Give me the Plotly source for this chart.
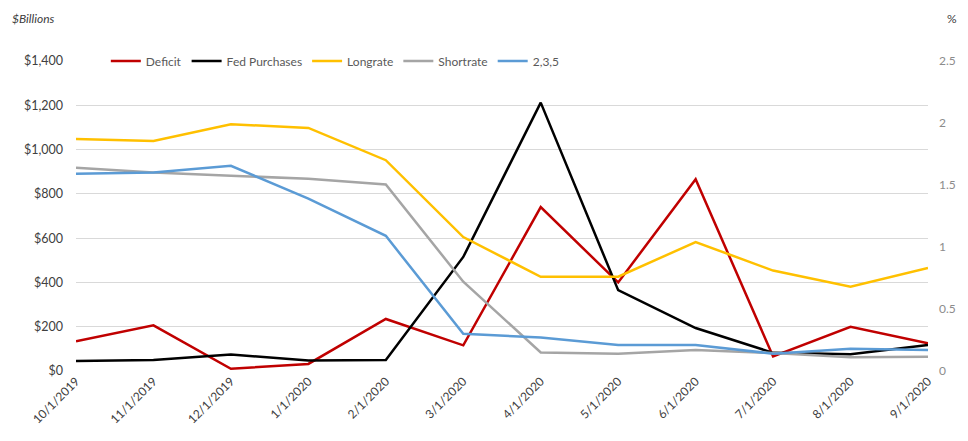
import plotly.graph_objects as go

dates = ["10/1/2019", "11/1/2019", "12/1/2019", "1/1/2020", "2/1/2020", "3/1/2020",
         "4/1/2020", "5/1/2020", "6/1/2020", "7/1/2020", "8/1/2020", "9/1/2020"]
deficit = [134, 206, 10, 32, 235, 116, 740, 400, 866, 66, 200, 125]
fed_purchases = [45, 50, 75, 47, 50, 515, 1212, 365, 194, 82, 76, 118]
longrate = [1.87, 1.855, 1.99, 1.96, 1.70, 1.08, 0.76, 0.76, 1.04, 0.81, 0.68, 0.83]
shortrate = [1.64, 1.60, 1.575, 1.55, 1.505, 0.72, 0.15, 0.14, 0.17, 0.145, 0.11, 0.115]
r235 = [1.59, 1.60, 1.655, 1.39, 1.09, 0.30, 0.27, 0.21, 0.21, 0.14, 0.18, 0.17]

left_ticks = [0, 200, 400, 600, 800, 1000, 1200, 1400]
left_labels = ["$0", "$200", "$400", "$600", "$800", "$1,000", "$1,200", "$1,400"]
right_ticks = [0, 0.5, 1, 1.5, 2, 2.5]
right_labels = ["0", "0.5", "1", "1.5", "2", "2.5"]

FONT = "Lato, 'Open Sans', sans-serif"
fig = go.Figure()
lw = 2.5
fig.add_trace(go.Scatter(x=dates, y=deficit, name="Deficit", mode="lines",
                         line=dict(color="#C00000", width=lw), yaxis="y"))
fig.add_trace(go.Scatter(x=dates, y=fed_purchases, name="Fed Purchases", mode="lines",
                         line=dict(color="#000000", width=lw), yaxis="y"))
fig.add_trace(go.Scatter(x=dates, y=longrate, name="Longrate", mode="lines",
                         line=dict(color="#FFC000", width=lw), yaxis="y2"))
fig.add_trace(go.Scatter(x=dates, y=shortrate, name="Shortrate", mode="lines",
                         line=dict(color="#A5A5A5", width=lw), yaxis="y2"))
fig.add_trace(go.Scatter(x=dates, y=r235, name="2,3,5", mode="lines",
                         line=dict(color="#5B9BD5", width=lw), yaxis="y2"))

fig.update_layout(
    width=968, height=441,
    margin=dict(l=76, r=35, t=61, b=70),
    paper_bgcolor="white", plot_bgcolor="white",
    font=dict(family=FONT, size=12, color="#404040"),
    xaxis=dict(type="category", range=[0, 11], tickangle=-45, showgrid=False,
               showline=False, ticks="", tickfont=dict(size=12, color="#404040")),
    yaxis=dict(range=[0, 1400], tickvals=left_ticks, ticktext=left_labels,
               showgrid=True, gridcolor="#D9D9D9", gridwidth=1, zeroline=False,
               ticks="", tickfont=dict(size=12.5, color="#404040"), ticklabelstandoff=12),
    yaxis2=dict(range=[0, 2.5], tickvals=right_ticks, ticktext=right_labels,
                overlaying="y", side="right", showgrid=False, zeroline=False,
                ticks="", tickfont=dict(size=12, color="#8C8C8C"), ticklabelstandoff=10),
    legend=dict(orientation="h", x=0.035, y=1.0, xref="paper", yref="paper",
                xanchor="left", yanchor="middle", bgcolor="rgba(0,0,0,0)",
                font=dict(size=12, color="#595959"), itemwidth=30,
                tracegroupgap=0),
    showlegend=True,
)
fig.add_annotation(text="<i>$Billions</i>", x=10, y=18, showarrow=False,
                   xanchor="left", yanchor="middle",
                   font=dict(size=12, color="#404040"))
fig.add_annotation(text="%", x=950, y=18, showarrow=False, xanchor="left", yanchor="middle",
                   font=dict(size=12, color="#404040"))
# convert pixel-placed annotations to paper coordinates
pw = 968 - 76 - 35
ph = 441 - 61 - 70
for a in fig.layout.annotations:
    a.x = (a.x - 76) / pw
    a.y = (441 - 70 - a.y) / ph
    a.xref = "paper"
    a.yref = "paper"

fig.write_html("out.html")
